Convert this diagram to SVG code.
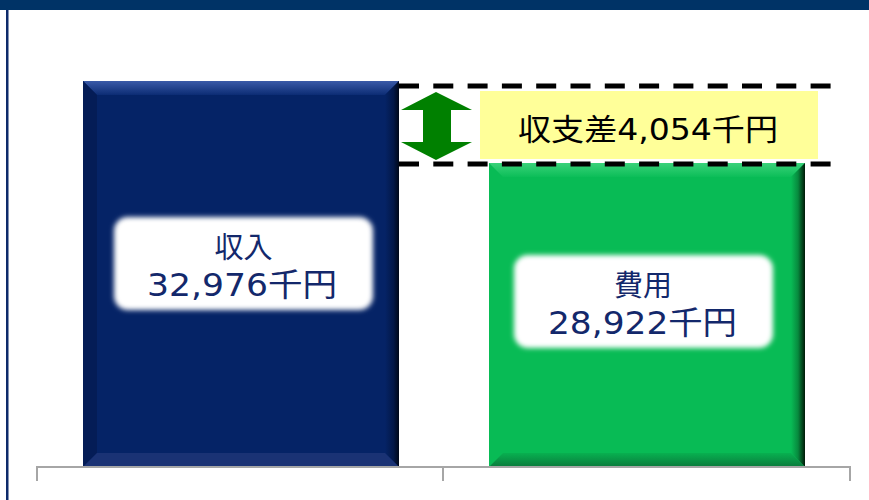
<svg xmlns="http://www.w3.org/2000/svg" width="869" height="500" viewBox="0 0 869 500">
<defs>
<style>
.lbl{font-family:"DejaVu Sans","Noto Sans CJK JP",sans-serif;fill:#13286B;text-anchor:middle}
.dash{stroke:#000;stroke-width:5;stroke-dasharray:20 14.3;fill:none}
.axis{stroke:#A6A6A6;stroke-width:2;fill:none}
</style>
<filter id="soft" x="-10%" y="-20%" width="120%" height="140%"><feGaussianBlur stdDeviation="2.5"/></filter>
<linearGradient id="bTop" x1="0" y1="0" x2="0" y2="1"><stop offset="0" stop-color="#3A5AA8"/><stop offset="1" stop-color="#0C2C74"/></linearGradient>
<linearGradient id="bRight" x1="0" y1="0" x2="1" y2="0"><stop offset="0" stop-color="#052366"/><stop offset="0.6" stop-color="#031848"/><stop offset="1" stop-color="#000818"/></linearGradient>
<linearGradient id="gTop" x1="0" y1="0" x2="0" y2="1"><stop offset="0" stop-color="#3AD27A"/><stop offset="1" stop-color="#0CBE58"/></linearGradient>
<linearGradient id="gRight" x1="0" y1="0" x2="1" y2="0"><stop offset="0" stop-color="#08BB55"/><stop offset="0.5" stop-color="#078A3E"/><stop offset="1" stop-color="#001A08"/></linearGradient>
<linearGradient id="gBot" x1="0" y1="0" x2="0" y2="1"><stop offset="0" stop-color="#08B050"/><stop offset="1" stop-color="#0A7A3C"/></linearGradient>
</defs>
<rect x="0" y="0" width="869" height="500" fill="#fff"/>
<g id="frame">
<rect x="0" y="0" width="869" height="10" fill="#003366"/>
<rect x="6" y="10" width="2.5" height="490" fill="#0D2A6A"/>
</g>
<g id="bar-income">
<rect x="83" y="81" width="316" height="386" fill="#052366"/>
<polygon points="83,81 399,81 385,95 97,95" fill="url(#bTop)"/>
<polygon points="83,81 97,95 97,453 83,467" fill="#041C56"/>
<polygon points="399,81 399,467 385,453 385,95" fill="url(#bRight)"/>
<polygon points="83,467 97,453 385,453 399,467" fill="#1A3274"/>
<rect x="114" y="217" width="259" height="93" rx="14" fill="#fff" filter="url(#soft)"/>
<text class="lbl" x="243.5" y="258" font-size="29">収入</text>
<text class="lbl" x="242" y="296" font-size="32" textLength="190" lengthAdjust="spacingAndGlyphs">32,976千円</text>
</g>
<g id="bar-cost">
<rect x="489" y="163" width="316" height="304" fill="#08BB55"/>
<polygon points="489,163 805,163 791,177 503,177" fill="url(#gTop)"/>
<polygon points="805,163 805,467 791,453 791,177" fill="url(#gRight)"/>
<polygon points="489,467 503,453 791,453 805,467" fill="url(#gBot)"/>
<rect x="514" y="255" width="259" height="93" rx="14" fill="#fff" filter="url(#soft)"/>
<text class="lbl" x="643" y="296" font-size="29">費用</text>
<text class="lbl" x="642.5" y="334" font-size="32" textLength="189" lengthAdjust="spacingAndGlyphs">28,922千円</text>
</g>
<g id="connectors">
<line class="axis" x1="37" y1="467" x2="850" y2="467"/>
<line class="axis" x1="37" y1="466" x2="37" y2="481"/>
<line class="axis" x1="443" y1="466" x2="443" y2="481"/>
<line class="axis" x1="850" y1="466" x2="850" y2="481"/>
<line class="dash" x1="399" y1="86" x2="832" y2="86"/>
<line class="dash" x1="399" y1="164" x2="832" y2="164"/>
<polygon points="436,92 472,110 451,110 451,142 472,142 436,160 401,142 423,142 423,110 401,110" fill="#008000"/>
</g>
<g id="diff-label">
<rect x="480" y="91" width="338" height="68" fill="#FFFF99"/>
<text x="648" y="140" font-family="DejaVu Sans,'Noto Sans CJK JP',sans-serif" font-size="30" fill="#000" text-anchor="middle" textLength="260" lengthAdjust="spacingAndGlyphs">収支差4,054千円</text>
</g>
</svg>
